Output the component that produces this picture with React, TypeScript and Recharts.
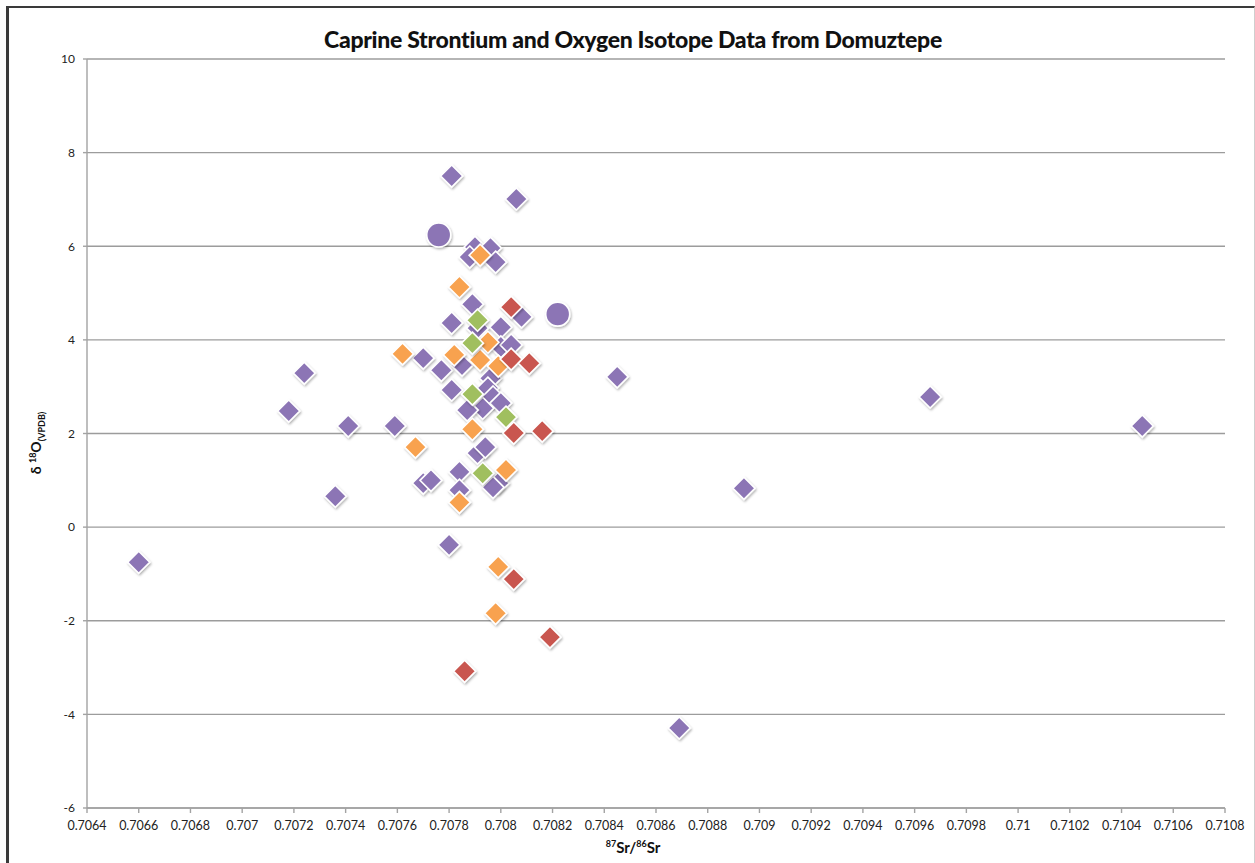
import { ScatterChart, Scatter, XAxis, YAxis, CartesianGrid } from "recharts";

// 87Sr/86Sr vs d18O
const purpleDiamonds = [
  { sr: 0.7066, o: -0.75 }, { sr: 0.70718, o: 2.48 }, { sr: 0.70724, o: 3.29 },
  { sr: 0.70741, o: 2.16 }, { sr: 0.70736, o: 0.66 }, { sr: 0.70759, o: 2.16 },
  { sr: 0.7077, o: 3.61 }, { sr: 0.70777, o: 3.35 }, { sr: 0.7077, o: 0.94 },
  { sr: 0.70773, o: 1.0 }, { sr: 0.7078, o: -0.38 }, { sr: 0.70781, o: 7.5 },
  { sr: 0.70806, o: 7.01 }, { sr: 0.70781, o: 4.36 }, { sr: 0.70781, o: 2.93 },
  { sr: 0.70784, o: 1.18 }, { sr: 0.70784, o: 0.79 }, { sr: 0.70789, o: 4.76 },
  { sr: 0.7079, o: 5.98 }, { sr: 0.70796, o: 5.96 }, { sr: 0.70788, o: 5.77 },
  { sr: 0.70798, o: 5.66 }, { sr: 0.70791, o: 4.25 }, { sr: 0.708, o: 4.27 },
  { sr: 0.70808, o: 4.49 }, { sr: 0.70785, o: 3.46 }, { sr: 0.708, o: 3.85 },
  { sr: 0.70804, o: 3.89 }, { sr: 0.70796, o: 3.18 }, { sr: 0.70795, o: 2.97 },
  { sr: 0.70797, o: 2.78 }, { sr: 0.708, o: 2.65 }, { sr: 0.70793, o: 2.54 },
  { sr: 0.70787, o: 2.5 }, { sr: 0.70791, o: 1.58 }, { sr: 0.70794, o: 1.71 },
  { sr: 0.70799, o: 0.94 }, { sr: 0.70797, o: 0.85 }, { sr: 0.70845, o: 3.21 },
  { sr: 0.70894, o: 0.83 }, { sr: 0.70869, o: -4.29 }, { sr: 0.70966, o: 2.78 },
  { sr: 0.71048, o: 2.16 },
];

const purpleCircles = [
  { sr: 0.70776, o: 6.24 }, { sr: 0.70822, o: 4.55 },
];

const orangeDiamonds = [
  { sr: 0.70762, o: 3.7 }, { sr: 0.70767, o: 1.71 }, { sr: 0.70782, o: 3.68 },
  { sr: 0.70784, o: 5.13 }, { sr: 0.70792, o: 5.81 }, { sr: 0.70795, o: 3.95 },
  { sr: 0.70792, o: 3.57 }, { sr: 0.70799, o: 3.44 }, { sr: 0.70789, o: 2.09 },
  { sr: 0.70802, o: 1.22 }, { sr: 0.70784, o: 0.53 }, { sr: 0.70799, o: -0.85 },
  { sr: 0.70798, o: -1.84 },
];

const greenDiamonds = [
  { sr: 0.70791, o: 4.42 }, { sr: 0.70789, o: 3.93 }, { sr: 0.70789, o: 2.84 },
  { sr: 0.70802, o: 2.35 }, { sr: 0.70793, o: 1.15 },
];

const redDiamonds = [
  { sr: 0.70804, o: 4.7 }, { sr: 0.70804, o: 3.59 }, { sr: 0.70811, o: 3.5 },
  { sr: 0.70805, o: 2.01 }, { sr: 0.70816, o: 2.05 }, { sr: 0.70805, o: -1.11 },
  { sr: 0.70819, o: -2.35 }, { sr: 0.70786, o: -3.08 },
];

const xTicks = [
  0.7064, 0.7066, 0.7068, 0.707, 0.7072, 0.7074, 0.7076, 0.7078, 0.708, 0.7082,
  0.7084, 0.7086, 0.7088, 0.709, 0.7092, 0.7094, 0.7096, 0.7098, 0.71, 0.7102,
  0.7104, 0.7106, 0.7108,
];
const yTicks = [-6, -4, -2, 0, 2, 4, 6, 8, 10];

const FONT = "Lato, 'Open Sans', sans-serif";

const Diamond = (props: any) => {
  const { cx, cy, fill } = props;
  if (cx == null || cy == null) return null;
  const r = 11;
  return (
    <path
      d={`M${cx},${cy - r} L${cx + r},${cy} L${cx},${cy + r} L${cx - r},${cy} Z`}
      fill={fill}
      stroke="#fff"
      strokeWidth={1.6}
      filter="url(#mk-shadow)"
    />
  );
};

const Dot = (props: any) => {
  const { cx, cy, fill } = props;
  if (cx == null || cy == null) return null;
  return <circle cx={cx} cy={cy} r={12} fill={fill} stroke="#fff" strokeWidth={1.6} filter="url(#mk-shadow)" />;
};

export default function App() {
  return (
    <div style={{ position: "absolute", left: 0, top: 0, width: 1255, height: 863, background: "#fff", overflow: "hidden", fontFamily: FONT }}>
      <div style={{ position: "absolute", left: 6, top: 6, width: 1245, height: 900, borderLeft: "3px solid #3a3a3a", borderTop: "2px solid #3a3a3a", borderRight: "1px solid #cfcfcf" }} />
      <ScatterChart width={1255} height={863} margin={{ top: 59, right: 30, bottom: 25, left: 27 }}>
        <defs>
          <filter id="mk-shadow" x="-50%" y="-50%" width="200%" height="200%">
            <feDropShadow dx="1" dy="1.5" stdDeviation="1.3" floodColor="#000" floodOpacity="0.3" />
          </filter>
        </defs>
        <CartesianGrid vertical={false} stroke="#9c9c9c" strokeWidth={1.4} />
        <XAxis
          type="number"
          dataKey="sr"
          domain={[0.7064, 0.7108]}
          ticks={xTicks}
          interval={0}
          tickFormatter={(v: number) => String(v)}
          height={30}
          stroke="#a3a3a3"
          strokeWidth={1.4}
          tickSize={5}
          tickMargin={8}
          tick={{ fontSize: 12.5, fill: "#222", fontFamily: FONT }}
        />
        <YAxis
          type="number"
          dataKey="o"
          domain={[-6, 10]}
          ticks={yTicks}
          interval={0}
          width={60}
          stroke="#a3a3a3"
          strokeWidth={1.4}
          tickSize={4}
          tickMargin={8}
          tick={{ fontSize: 12, fill: "#222", fontFamily: FONT }}
        />
        <Scatter data={purpleDiamonds} fill="#8c75b5" shape={Diamond} isAnimationActive={false} />
        <Scatter data={purpleCircles} fill="#8c75b5" shape={Dot} isAnimationActive={false} />
        <Scatter data={orangeDiamonds} fill="#f8a24f" shape={Diamond} isAnimationActive={false} />
        <Scatter data={greenDiamonds} fill="#a0bf5e" shape={Diamond} isAnimationActive={false} />
        <Scatter data={redDiamonds} fill="#c9574f" shape={Diamond} isAnimationActive={false} />
      </ScatterChart>
      <div style={{ position: "absolute", left: 0, width: 1266, top: 25, textAlign: "center", fontWeight: 900, fontSize: 23, color: "#111", letterSpacing: -0.3 }}>
        Caprine Strontium and Oxygen Isotope Data from Domuztepe
      </div>
      <div style={{ position: "absolute", left: 0, width: 1266, top: 838, textAlign: "center", fontWeight: 700, fontSize: 15, color: "#111" }}>
        <sup style={{ fontSize: 9 }}>87</sup>Sr/<sup style={{ fontSize: 9 }}>86</sup>Sr
      </div>
      <div style={{ position: "absolute", left: 37, top: 443, transform: "translate(-50%, -50%) rotate(-90deg)", whiteSpace: "nowrap", fontWeight: 700, fontSize: 14, color: "#111" }}>
        δ <sup style={{ fontSize: 9 }}>18</sup>O<sub style={{ fontSize: 9 }}>(VPDB)</sub>
      </div>
    </div>
  );
}
